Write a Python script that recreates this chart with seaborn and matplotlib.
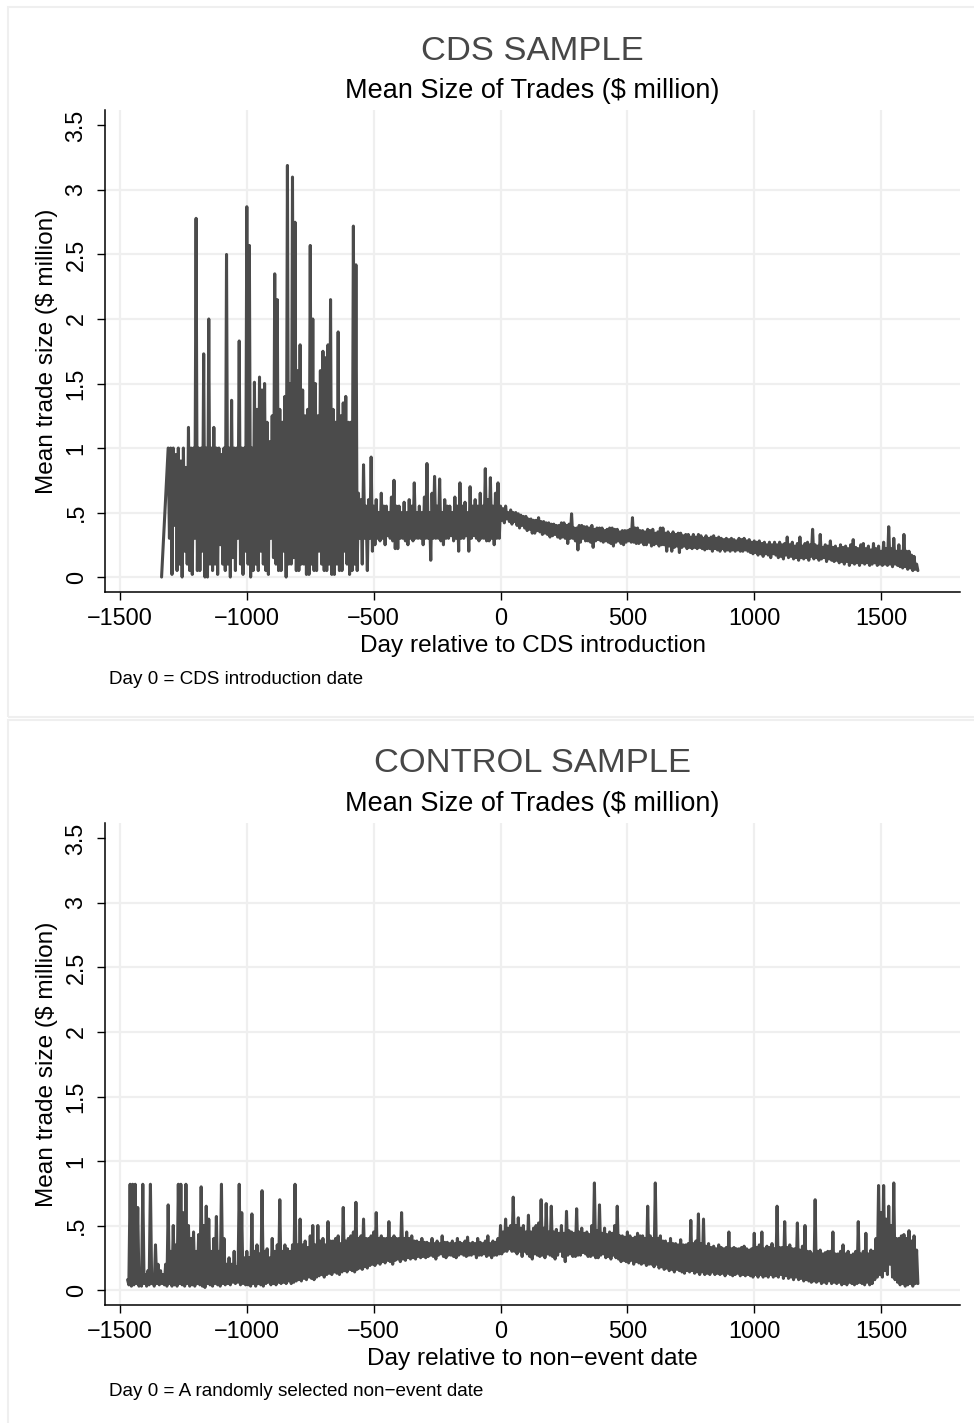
import numpy as np
import pandas as pd
import seaborn as sns
import matplotlib.pyplot as plt
from matplotlib.patches import Rectangle

# %%
# values, one point every 5 days
# (the series swings up and down from one day to the next)
step = 5

# CDS sample
cds_first_day = -1336
cds_first_val = 0.0

cds_pre_start = -1310
cds_pre = [1.0, 0.3, 1.0, 0.02, 1.0, 0.4, 0.95, 0.05, 1.0, 0.1,
           0.9, 0.0, 1.0, 0.2, 0.85, 0.1, 1.16, 0.05, 1.0, 0.02,
           1.0, 0.3, 2.78, 0.05, 1.0, 0.05, 1.0, 0.2, 1.73, 0.0,
           1.0, 0.0, 2.0, 0.1, 1.0, 0.05, 1.16, 0.1, 1.0, 0.02,
           1.0, 0.25, 0.95, 0.1, 1.0, 0.05, 2.5, 0.1, 1.0, 0.0,
           1.37, 0.15, 1.0, 0.05, 1.0, 0.3, 1.83, 0.1, 1.0, 0.02,
           1.0, 0.2, 2.87, 0.1, 2.57, 0.0, 1.0, 0.05, 1.51, 0.1,
           1.3, 0.05, 1.55, 0.2, 1.45, 0.1, 1.5, 0.05, 1.2, 0.02,
           1.05, 0.3, 1.25, 0.15, 2.35, 0.1, 2.15, 0.05, 1.3, 0.05,
           1.2, 0.2, 1.4, 0.0, 3.19, 0.1, 1.5, 0.1, 3.10, 0.15,
           2.75, 0.05, 1.6, 0.05, 1.8, 0.1, 1.45, 0.1, 1.25, 0.02,
           1.3, 0.02, 2.57, 0.1, 2.0, 0.05, 1.5, 0.05, 1.25, 0.2,
           1.6, 0.1, 1.75, 0.05, 1.7, 0.05, 1.8, 0.1, 2.15, 0.02,
           1.3, 0.02, 1.2, 0.1, 1.9, 0.05, 1.25, 0.05, 1.35, 0.2,
           1.4, 0.1, 1.2, 0.02, 1.2, 0.05, 2.72, 0.1, 2.42, 0.05]

cds_mid_start = -560
cds_mid = [0.65, 0.3, 0.6, 0.1, 0.87, 0.3, 0.55, 0.05, 0.6, 0.3,
           0.93, 0.2, 0.55, 0.25, 0.6, 0.3, 0.5, 0.28, 0.65, 0.3,
           0.55, 0.25, 0.55, 0.32, 0.5, 0.3, 0.62, 0.28, 0.75, 0.22,
           0.55, 0.22, 0.55, 0.3, 0.5, 0.3, 0.58, 0.28, 0.5, 0.25,
           0.6, 0.3, 0.55, 0.28, 0.73, 0.3, 0.5, 0.3, 0.55, 0.3,
           0.5, 0.25, 0.62, 0.3, 0.88, 0.3, 0.5, 0.13, 0.65, 0.3,
           0.78, 0.3, 0.55, 0.3, 0.76, 0.28, 0.5, 0.25, 0.6, 0.3,
           0.55, 0.3, 0.55, 0.32, 0.5, 0.28, 0.62, 0.3, 0.55, 0.2,
           0.73, 0.3, 0.55, 0.3, 0.58, 0.32, 0.5, 0.2, 0.7, 0.3,
           0.55, 0.32, 0.6, 0.3, 0.55, 0.28, 0.65, 0.3, 0.55, 0.3,
           0.84, 0.28, 0.6, 0.28, 0.77, 0.3, 0.55, 0.25, 0.65, 0.3,
           0.73, 0.3]

cds_post_start = 0
cds_post = [0.55, 0.44, 0.53, 0.42, 0.55, 0.45, 0.5, 0.43, 0.52, 0.41,
            0.5, 0.43, 0.5, 0.4, 0.49, 0.38, 0.48, 0.4, 0.47, 0.38,
            0.47, 0.36, 0.45, 0.37, 0.45, 0.34, 0.44, 0.34, 0.44, 0.36,
            0.46, 0.35, 0.43, 0.33, 0.43, 0.34, 0.42, 0.33, 0.42, 0.31,
            0.41, 0.32, 0.41, 0.33, 0.4, 0.31, 0.4, 0.3, 0.42, 0.31,
            0.42, 0.3, 0.4, 0.26, 0.41, 0.3, 0.49, 0.3, 0.38, 0.28,
            0.38, 0.21, 0.4, 0.27, 0.4, 0.3, 0.39, 0.28, 0.39, 0.28,
            0.38, 0.27, 0.4, 0.23, 0.37, 0.28, 0.38, 0.29, 0.38, 0.28,
            0.38, 0.27, 0.36, 0.28, 0.37, 0.27, 0.38, 0.26, 0.38, 0.24,
            0.37, 0.27, 0.37, 0.28, 0.35, 0.26, 0.36, 0.25, 0.36, 0.27,
            0.36, 0.28, 0.37, 0.27, 0.46, 0.27, 0.38, 0.26, 0.38, 0.26,
            0.36, 0.27, 0.36, 0.25, 0.35, 0.25, 0.37, 0.27, 0.36, 0.24,
            0.37, 0.25, 0.34, 0.26, 0.35, 0.24, 0.38, 0.25, 0.38, 0.25,
            0.34, 0.2, 0.35, 0.24, 0.33, 0.2, 0.35, 0.23, 0.33, 0.24,
            0.34, 0.19, 0.34, 0.23, 0.32, 0.24, 0.33, 0.22, 0.33, 0.23,
            0.31, 0.22, 0.33, 0.23, 0.31, 0.22, 0.33, 0.23, 0.32, 0.22,
            0.3, 0.21, 0.32, 0.22, 0.3, 0.22, 0.31, 0.2, 0.32, 0.22,
            0.3, 0.21, 0.31, 0.2, 0.3, 0.22, 0.29, 0.2, 0.3, 0.21,
            0.29, 0.2, 0.3, 0.21, 0.29, 0.2, 0.28, 0.21, 0.3, 0.2,
            0.29, 0.2, 0.3, 0.21, 0.28, 0.2, 0.29, 0.19, 0.27, 0.18,
            0.28, 0.19, 0.27, 0.17, 0.28, 0.18, 0.26, 0.16, 0.27, 0.18,
            0.25, 0.17, 0.27, 0.15, 0.25, 0.18, 0.27, 0.17, 0.25, 0.15,
            0.27, 0.16, 0.25, 0.14, 0.26, 0.17, 0.31, 0.15, 0.25, 0.16,
            0.27, 0.14, 0.24, 0.15, 0.26, 0.13, 0.31, 0.15, 0.24, 0.14,
            0.26, 0.15, 0.27, 0.13, 0.25, 0.16, 0.37, 0.14, 0.25, 0.15,
            0.24, 0.13, 0.33, 0.14, 0.23, 0.15, 0.25, 0.12, 0.24, 0.14,
            0.28, 0.13, 0.23, 0.12, 0.24, 0.13, 0.22, 0.11, 0.25, 0.12,
            0.23, 0.1, 0.24, 0.12, 0.22, 0.09, 0.25, 0.11, 0.29, 0.1,
            0.23, 0.11, 0.22, 0.09, 0.25, 0.11, 0.26, 0.1, 0.22, 0.11,
            0.24, 0.09, 0.21, 0.1, 0.26, 0.11, 0.22, 0.09, 0.24, 0.1,
            0.2, 0.09, 0.27, 0.1, 0.22, 0.09, 0.39, 0.1, 0.22, 0.08,
            0.3, 0.1, 0.2, 0.09, 0.25, 0.08, 0.2, 0.07, 0.33, 0.08,
            0.2, 0.06, 0.2, 0.07, 0.17, 0.05, 0.16, 0.06, 0.1, 0.05]

# control sample
ctrl_a_start = -1470
ctrl_a = [0.08, 0.04, 0.82, 0.03, 0.82, 0.04, 0.82, 0.05, 0.64, 0.03,
          0.15, 0.03, 0.82, 0.05, 0.12, 0.03, 0.15, 0.04, 0.82, 0.05,
          0.12, 0.03, 0.35, 0.05, 0.2, 0.04, 0.15, 0.05, 0.12, 0.04,
          0.2, 0.03, 0.66, 0.05, 0.3, 0.03, 0.5, 0.04, 0.35, 0.03,
          0.82, 0.05, 0.82, 0.04, 0.6, 0.03, 0.82, 0.05, 0.5, 0.03,
          0.4, 0.04, 0.45, 0.03, 0.3, 0.05, 0.43, 0.04, 0.8, 0.03,
          0.5, 0.02, 0.65, 0.05, 0.55, 0.04, 0.3, 0.03, 0.4, 0.05,
          0.57, 0.04, 0.3, 0.03, 0.82, 0.05, 0.4, 0.04, 0.2, 0.05,
          0.25, 0.04, 0.2, 0.06, 0.3, 0.05, 0.18, 0.06, 0.82, 0.04,
          0.6, 0.05, 0.25, 0.04]

ctrl_b_start = -1000
ctrl_b = [0.3, 0.04, 0.25, 0.03, 0.59, 0.05, 0.3, 0.03, 0.35, 0.05,
          0.28, 0.04, 0.77, 0.03, 0.3, 0.05, 0.32, 0.06, 0.25, 0.04,
          0.4, 0.05, 0.3, 0.04, 0.35, 0.06, 0.7, 0.05, 0.3, 0.06,
          0.35, 0.05, 0.32, 0.07, 0.3, 0.05, 0.35, 0.06, 0.82, 0.07,
          0.35, 0.08, 0.55, 0.07, 0.35, 0.09, 0.38, 0.08, 0.33, 0.1,
          0.42, 0.09, 0.5, 0.08, 0.35, 0.1, 0.5, 0.11, 0.38, 0.12,
          0.4, 0.1, 0.35, 0.12, 0.53, 0.13, 0.38, 0.12, 0.38, 0.14,
          0.4, 0.13, 0.42, 0.12, 0.36, 0.14, 0.64, 0.15, 0.38, 0.14,
          0.4, 0.16, 0.42, 0.15, 0.45, 0.14, 0.68, 0.16, 0.4, 0.17,
          0.42, 0.16, 0.55, 0.18, 0.4, 0.17, 0.4, 0.19, 0.42, 0.2,
          0.45, 0.19, 0.6, 0.21, 0.4, 0.2, 0.42, 0.22, 0.4, 0.21,
          0.4, 0.23, 0.53, 0.22, 0.4, 0.2, 0.42, 0.23, 0.4, 0.24,
          0.4, 0.22, 0.6, 0.24, 0.4, 0.23, 0.45, 0.25, 0.4, 0.24,
          0.42, 0.25, 0.38, 0.24, 0.38, 0.26, 0.37, 0.25, 0.4, 0.26,
          0.37, 0.25, 0.37, 0.26, 0.36, 0.27, 0.4, 0.26, 0.36, 0.24,
          0.38, 0.27, 0.36, 0.28, 0.42, 0.26, 0.37, 0.25, 0.37, 0.27,
          0.36, 0.27, 0.38, 0.26, 0.36, 0.25, 0.4, 0.27, 0.37, 0.28,
          0.36, 0.27, 0.38, 0.26, 0.41, 0.27, 0.36, 0.27, 0.37, 0.28,
          0.36, 0.25, 0.4, 0.27, 0.37, 0.27, 0.36, 0.28, 0.38, 0.26,
          0.42, 0.27, 0.36, 0.25, 0.38, 0.27, 0.37, 0.27, 0.4, 0.28]

ctrl_c_start = 0
ctrl_c = [0.5, 0.28, 0.45, 0.3, 0.55, 0.3, 0.48, 0.32, 0.5, 0.3,
          0.72, 0.3, 0.5, 0.28, 0.56, 0.3, 0.48, 0.26, 0.5, 0.3,
          0.45, 0.28, 0.58, 0.26, 0.45, 0.24, 0.48, 0.28, 0.5, 0.27,
          0.52, 0.26, 0.7, 0.27, 0.48, 0.25, 0.67, 0.28, 0.45, 0.27,
          0.65, 0.26, 0.45, 0.24, 0.47, 0.27, 0.44, 0.3, 0.5, 0.26,
          0.44, 0.22, 0.61, 0.27, 0.46, 0.28, 0.45, 0.26, 0.44, 0.26,
          0.63, 0.27, 0.45, 0.27, 0.48, 0.29, 0.44, 0.28, 0.45, 0.26,
          0.43, 0.26, 0.5, 0.27, 0.83, 0.25, 0.46, 0.25, 0.66, 0.27,
          0.44, 0.28, 0.48, 0.25, 0.43, 0.26, 0.45, 0.24, 0.44, 0.27,
          0.5, 0.25, 0.65, 0.24, 0.42, 0.22, 0.42, 0.23, 0.41, 0.22,
          0.45, 0.21, 0.42, 0.23, 0.4, 0.2, 0.41, 0.22, 0.44, 0.21,
          0.42, 0.2, 0.42, 0.21, 0.4, 0.19, 0.65, 0.2, 0.42, 0.2,
          0.4, 0.18, 0.83, 0.2, 0.4, 0.17, 0.42, 0.18, 0.38, 0.16,
          0.38, 0.17, 0.36, 0.15, 0.4, 0.16, 0.36, 0.14, 0.36, 0.16,
          0.35, 0.15, 0.39, 0.14, 0.35, 0.13, 0.35, 0.15, 0.36, 0.14,
          0.54, 0.15, 0.36, 0.13, 0.38, 0.14, 0.59, 0.12, 0.36, 0.14,
          0.55, 0.12, 0.34, 0.13, 0.36, 0.12, 0.33, 0.14, 0.34, 0.12,
          0.32, 0.13, 0.35, 0.12, 0.33, 0.13, 0.32, 0.11, 0.33, 0.13,
          0.45, 0.12, 0.32, 0.11, 0.33, 0.12, 0.32, 0.13, 0.32, 0.11,
          0.33, 0.12, 0.34, 0.11, 0.32, 0.12, 0.31, 0.11, 0.32, 0.1,
          0.44, 0.12, 0.33, 0.1, 0.35, 0.12, 0.45, 0.1, 0.32, 0.11,
          0.34, 0.1, 0.33, 0.12, 0.36, 0.1, 0.32, 0.11, 0.65, 0.1,
          0.33, 0.12, 0.33, 0.09, 0.53, 0.11, 0.33, 0.09, 0.35, 0.1,
          0.32, 0.08, 0.32, 0.1, 0.52, 0.08, 0.31, 0.09, 0.34, 0.07,
          0.5, 0.08, 0.3, 0.07, 0.3, 0.06, 0.28, 0.07, 0.7, 0.06,
          0.3, 0.07, 0.31, 0.05, 0.28, 0.06, 0.29, 0.05, 0.3, 0.07,
          0.3, 0.05, 0.45, 0.06, 0.28, 0.05, 0.28, 0.06, 0.3, 0.04,
          0.35, 0.05, 0.28, 0.04, 0.3, 0.06, 0.27, 0.05, 0.28, 0.04,
          0.3, 0.05, 0.53, 0.06, 0.28, 0.05, 0.3, 0.04, 0.44, 0.06,
          0.28, 0.04, 0.31, 0.05, 0.3, 0.08, 0.4, 0.1, 0.81, 0.12,
          0.6, 0.1, 0.81, 0.15, 0.55, 0.12, 0.65, 0.2, 0.5, 0.1,
          0.83, 0.08, 0.4, 0.06, 0.4, 0.04, 0.42, 0.05, 0.43, 0.03,
          0.4, 0.04, 0.46, 0.05, 0.38, 0.03, 0.42, 0.05, 0.31, 0.05]

xticks = [-1500, -1000, -500, 0, 500, 1000, 1500]
yticks = [0, 0.5, 1, 1.5, 2, 2.5, 3, 3.5]
ytick_labels = ['0', '.5', '1', '1.5', '2', '2.5', '3', '3.5']


def segment(start, vals):
    return pd.DataFrame({'day': start + step * np.arange(len(vals)), 'size': vals})


cds = pd.concat([pd.DataFrame({'day': [cds_first_day], 'size': [cds_first_val]}),
                 segment(cds_pre_start, cds_pre),
                 segment(cds_mid_start, cds_mid),
                 segment(cds_post_start, cds_post)], ignore_index=True)
ctrl = pd.concat([segment(ctrl_a_start, ctrl_a),
                  segment(ctrl_b_start, ctrl_b),
                  segment(ctrl_c_start, ctrl_c)], ignore_index=True)

# %%
sns.set_theme(style='white')
plt.rcParams['font.family'] = ['Liberation Sans', 'DejaVu Sans']

W, H = 974, 1423
fig = plt.figure(figsize=(W / 100, H / 100), dpi=100)

panels = [
    dict(df=cds, top=7, title='CDS SAMPLE',
         xlabel='Day relative to CDS introduction',
         note='Day 0 = CDS introduction date'),
    dict(df=ctrl, top=720, title='CONTROL SAMPLE',
         xlabel='Day relative to non\u2212event date',
         note='Day 0 = A randomly selected non\u2212event date'),
]

for p in panels:
    t = p['top']
    # light outline of the graph region
    fig.patches.append(Rectangle((8 / W, 1 - (t + 710) / H), 1.0, 710 / H,
                                 transform=fig.transFigure, fill=False,
                                 edgecolor='#efefef', linewidth=1.5))

    ax_top = t + 103
    ax = fig.add_axes([105 / W, 1 - (ax_top + 482) / H, 855 / W, 482 / H])
    sns.lineplot(data=p['df'], x='day', y='size', ax=ax, color='#4b4b4b',
                 linewidth=2.2, errorbar=None)

    ax.set_xlim(-1559, 1811)
    ax.set_ylim(-0.116, 3.62)
    ax.set_xticks(xticks)
    ax.set_yticks(yticks)
    ax.set_yticklabels(ytick_labels, rotation=90, va='center')
    ax.grid(True, color='#efefef', linewidth=1.6)
    ax.yaxis.get_gridlines()[-1].set_visible(False)
    ax.set_axisbelow(True)

    for side in ['top', 'right']:
        ax.spines[side].set_visible(False)
    for side in ['left', 'bottom']:
        ax.spines[side].set_color('black')
        ax.spines[side].set_linewidth(1.1)
    ax.tick_params(axis='both', which='major', length=6, width=1,
                   color='black', labelsize=16.8, labelcolor='black',
                   direction='out', left=True, bottom=True)
    ax.tick_params(axis='x', pad=4.5)
    ax.tick_params(axis='y', pad=6.5)

    ax.set_xlabel(p['xlabel'], fontsize=17.6, color='black', va='center')
    ax.xaxis.set_label_coords(0.5, -0.112)
    ax.set_ylabel('Mean trade size ($ million)', fontsize=17.6,
                  color='black', va='center')
    ax.yaxis.set_label_coords(-0.068, 0.5)

    fig.text(532 / W, 1 - (t + 44) / H, p['title'], ha='center',
             va='center', fontsize=24.8, color='#474747')
    fig.text(532 / W, 1 - (t + 84) / H, 'Mean Size of Trades ($ million)',
             ha='center', va='center', fontsize=19.5, color='black')
    fig.text(109 / W, 1 - (t + 672) / H, p['note'], ha='left',
             va='center', fontsize=13.6, color='black')

fig.savefig('out.png', dpi=100)
